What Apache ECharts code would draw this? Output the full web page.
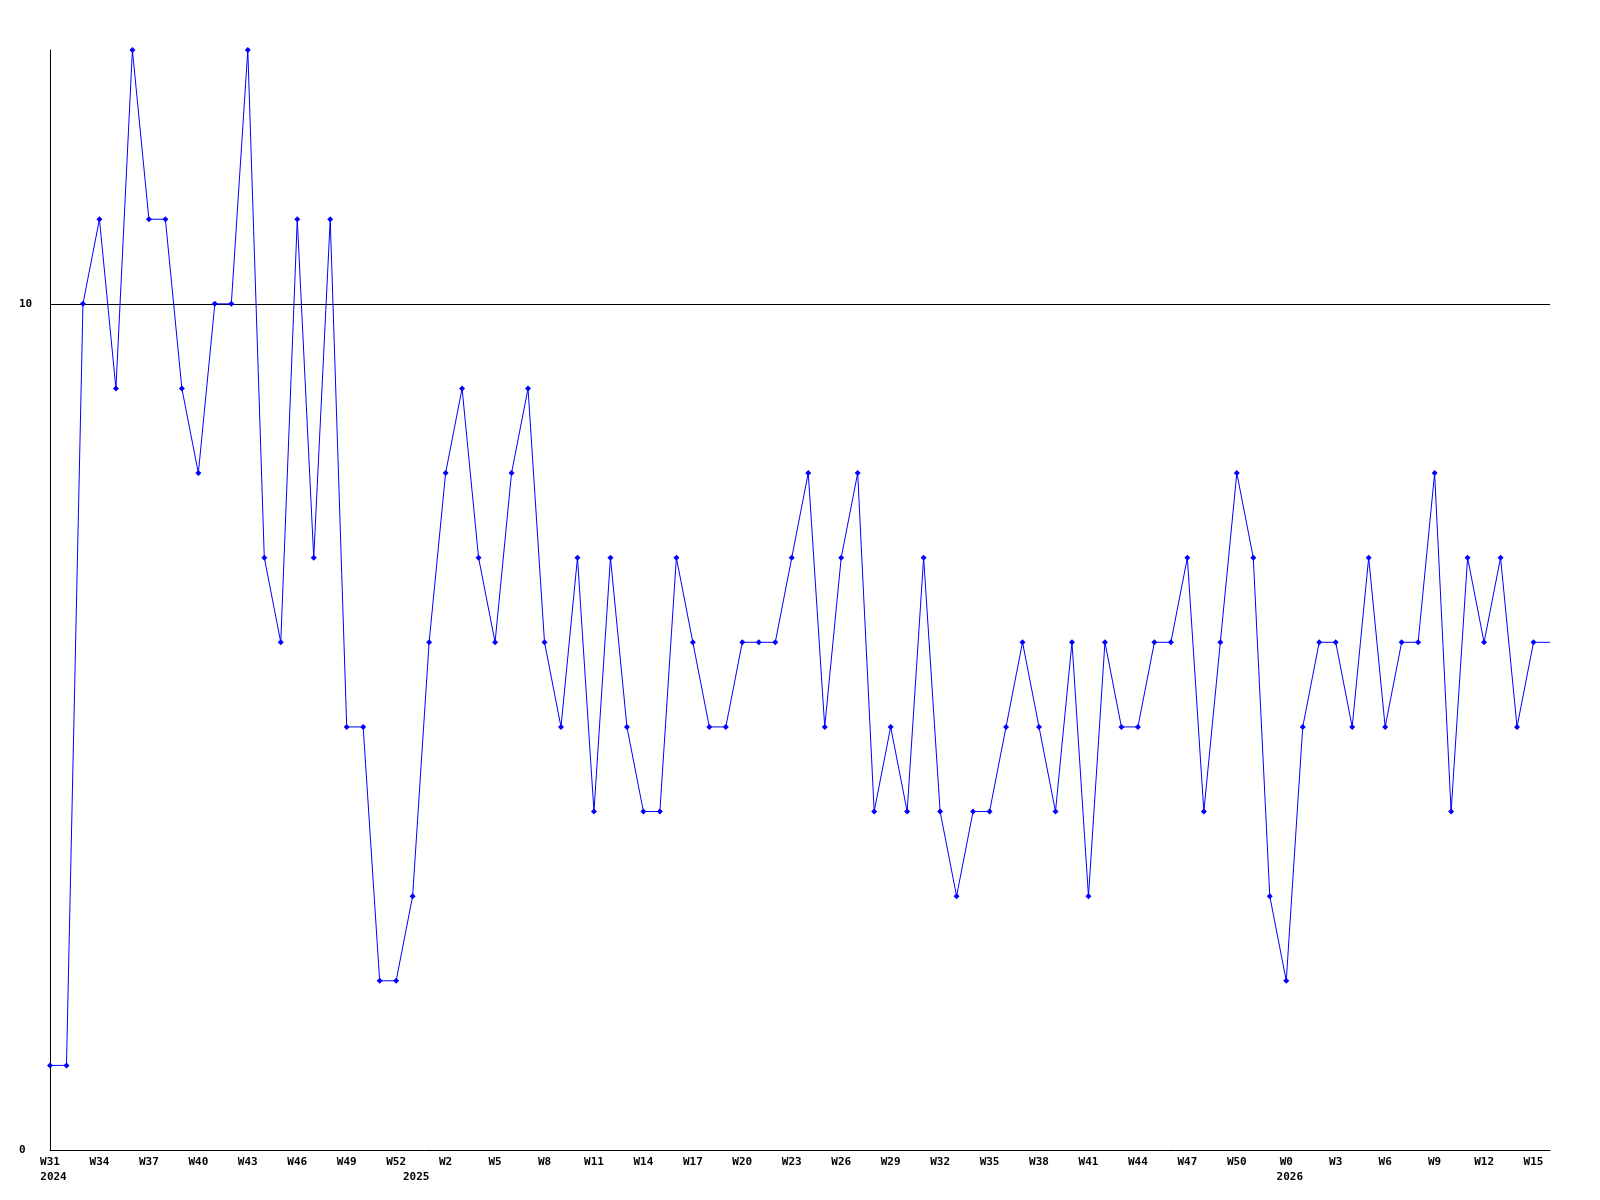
<!DOCTYPE html>
<html>
<head>
<meta charset="utf-8">
<script src="https://cdn.jsdelivr.net/npm/echarts@6/dist/echarts.min.js"></script>
<style>
html,body{margin:0;padding:0;background:#fff;}
#chart{width:1600px;height:1200px;}
</style>
</head>
<body>
<div id="chart"></div>
<script>
const weeks = [
  'W31','W32','W33','W34','W35','W36','W37','W38','W39','W40','W41','W42','W43','W44','W45','W46','W47','W48','W49','W50','W51','W52',
  'W0','W1','W2','W3','W4','W5','W6','W7','W8','W9','W10','W11','W12','W13','W14','W15','W16','W17','W18','W19','W20','W21','W22','W23','W24','W25','W26',
  'W27','W28','W29','W30','W31','W32','W33','W34','W35','W36','W37','W38','W39','W40','W41','W42','W43','W44','W45','W46','W47','W48','W49','W50','W51','W52',
  'W0','W1','W2','W3','W4','W5','W6','W7','W8','W9','W10','W11','W12','W13','W14','W15','W16'
];
const yearLabels = ['2024', '2025', '2026'];
const yearStartIndex = [0, 22, 75];
const values = [
  1,1,10,11,9,13,11,11,9,8,
  10,10,13,7,6,11,7,11,5,5,
  2,2,3,6,8,9,7,6,8,9,
  6,5,7,4,7,5,4,4,7,6,
  5,5,6,6,6,7,8,5,7,8,
  4,5,4,7,4,3,4,4,5,6,
  5,4,6,3,6,5,5,6,6,7,
  4,6,8,7,3,2,5,6,6,5,
  7,5,6,6,8,4,7,6,7,5,
  6,6
];
const yTicks = [0, 10];

const FONT = '"DejaVu Sans Mono", "Liberation Mono", monospace';
const chart = echarts.init(document.getElementById('chart'), null, {renderer: 'canvas'});

const seriesData = values.map((v, i) => i === values.length - 1 ? {value: v, symbol: 'none'} : v);

chart.setOption({
  animation: false,
  backgroundColor: '#ffffff',
  grid: {left: 50, right: 50, top: 50, bottom: 50, containLabel: false},
  xAxis: {
    type: 'category',
    data: weeks,
    boundaryGap: false,
    axisLine: {show: true, lineStyle: {color: '#000', width: 1}},
    axisTick: {show: false},
    splitLine: {show: false},
    axisLabel: {
      interval: (idx) => idx % 3 === 0 || yearStartIndex.includes(idx),
      margin: 5,
      fontFamily: FONT,
      fontWeight: 'bold',
      fontSize: 11,
      lineHeight: 15,
      color: '#000',
      formatter: (value, idx) => {
        const w = idx % 3 === 0 ? '{w|' + value + '}' : '{w| }';
        const yi = yearStartIndex.indexOf(idx);
        if (yi >= 0) return w + '\n{y|' + yearLabels[yi] + '}';
        return w;
      },
      rich: {
        w: {fontFamily: FONT, fontWeight: 'bold', fontSize: 11, lineHeight: 15, color: '#000'},
        y: {fontFamily: FONT, fontWeight: 'bold', fontSize: 11, lineHeight: 15, color: '#000', padding: [0, 0, 0, 7]}
      }
    }
  },
  yAxis: {
    type: 'value',
    min: 0,
    max: 13,
    interval: 10,
    axisLine: {show: true, lineStyle: {color: '#000', width: 1}},
    axisTick: {show: false},
    splitLine: {show: true, showMinLine: false, showMaxLine: false, lineStyle: {color: '#000', width: 1}},
    axisLabel: {
      showMaxLabel: false,
      align: 'left',
      margin: 31,
      fontFamily: FONT,
      fontWeight: 'bold',
      fontSize: 11,
      color: '#000',
      formatter: (v) => yTicks.includes(v) ? String(v) : ''
    }
  },
  series: [{
    type: 'line',
    data: seriesData,
    symbol: 'diamond',
    symbolSize: 6,
    showSymbol: true,
    showAllSymbol: true,
    clip: false,
    lineStyle: {color: '#0000ff', width: 1},
    itemStyle: {color: '#0000ff'},
    emphasis: {disabled: true}
  }]
});
</script>
</body>
</html>
